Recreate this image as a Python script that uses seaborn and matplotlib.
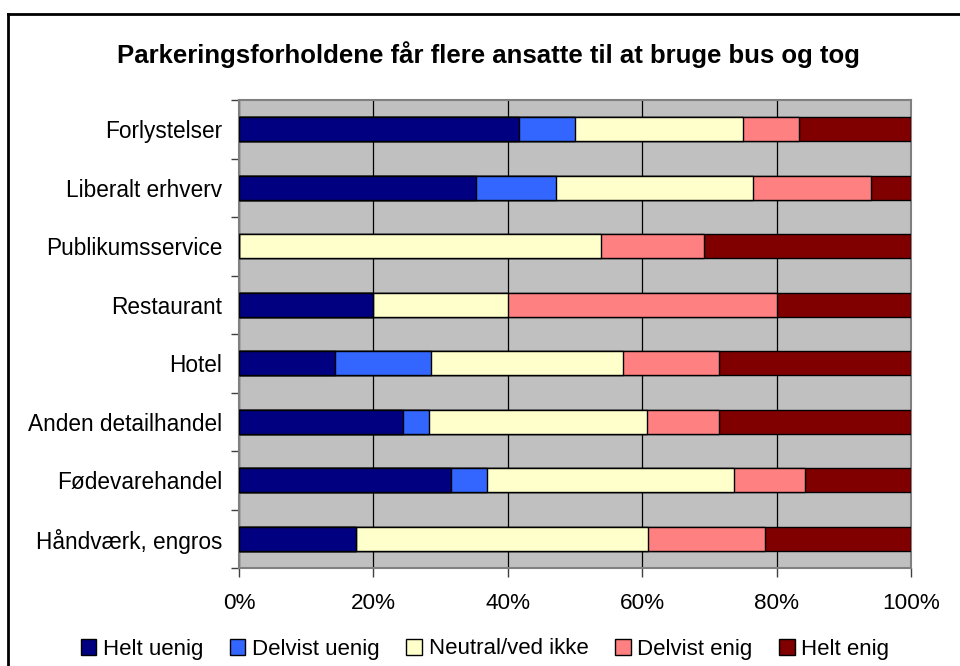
import matplotlib
matplotlib.use("Agg")
import matplotlib.pyplot as plt
import matplotlib.patches as mpatches
from matplotlib.lines import Line2D
from matplotlib.ticker import FixedLocator, FuncFormatter
import numpy as np
import pandas as pd
import seaborn as sns

sns.set_style("white")
plt.rcParams["font.family"] = ["Liberation Sans", "DejaVu Sans"]
plt.rcParams["text.color"] = "black"
plt.rcParams["xtick.color"] = "black"
plt.rcParams["ytick.color"] = "black"

title = "Parkeringsforholdene får flere ansatte til at bruge bus og tog"

categories = [
    "Forlystelser",
    "Liberalt erhverv",
    "Publikumsservice",
    "Restaurant",
    "Hotel",
    "Anden detailhandel",
    "Fødevarehandel",
    "Håndværk, engros",
]

series_names = ["Helt uenig", "Delvist uenig", "Neutral/ved ikke", "Delvist enig", "Helt enig"]

helt_uenig = [41.7, 35.3, 0.0, 20.0, 14.3, 24.4, 31.6, 17.4]
delvist_uenig = [8.3, 11.8, 0.0, 0.0, 14.3, 3.9, 5.3, 0.0]
neutral = [25.0, 29.4, 53.8, 20.0, 28.6, 32.4, 36.8, 43.5]
delvist_enig = [8.3, 17.6, 15.4, 40.0, 14.3, 10.8, 10.5, 17.4]
helt_enig = [16.7, 5.9, 30.8, 20.0, 28.5, 28.5, 15.8, 21.7]

colors = ["#000080", "#3366FF", "#FFFFCC", "#FF8080", "#800000"]

x_ticks = [0, 20, 40, 60, 80, 100]

values = [helt_uenig, delvist_uenig, neutral, delvist_enig, helt_enig]
df = pd.DataFrame({name: vals for name, vals in zip(series_names, values)}, index=categories)
cum = df.cumsum(axis=1)

fig = plt.figure(figsize=(9.6, 6.66), dpi=100)
ax = fig.add_axes([239 / 960, 1 - 568 / 666, (911 - 239) / 960, (568 - 100) / 666])
ax.set_facecolor("#C0C0C0")

# stacked bars: draw cumulative totals from the widest down
for name, color in reversed(list(zip(series_names, colors))):
    plot_df = pd.DataFrame({"kategori": categories, "andel": cum[name].values})
    sns.barplot(
        data=plot_df, x="andel", y="kategori", orient="h", ax=ax,
        color=color, width=0.41, edgecolor="black", linewidth=1.0,
        saturation=1, zorder=3, errorbar=None,
    )

ax.set_xlim(0, 100)
ax.set_ylim(len(categories) - 0.5, -0.5)
ax.set_xlabel("")
ax.set_ylabel("")

# vertical gridlines
ax.xaxis.set_major_locator(FixedLocator(x_ticks))
ax.xaxis.set_major_formatter(FuncFormatter(lambda v, p: f"{v:.0f}%"))
ax.grid(axis="x", color="black", linewidth=0.9, zorder=1)
ax.grid(axis="y", visible=False)
ax.set_axisbelow(True)

ax.tick_params(axis="x", which="major", length=6.5, width=1, color="#404040",
               labelsize=16.2, pad=11.5, direction="out", bottom=True)
ax.yaxis.set_major_locator(FixedLocator(np.arange(len(categories))))
ax.set_yticklabels(categories)
ax.yaxis.set_minor_locator(FixedLocator(np.arange(len(categories) + 1) - 0.5))
ax.tick_params(axis="y", which="major", length=0, labelsize=16.3, pad=12.2)
ax.tick_params(axis="y", which="minor", length=5.5, width=1, color="#404040",
               direction="out", left=True)

for side, sp in ax.spines.items():
    sp.set_visible(True)
    sp.set_color("#808080")
    sp.set_linewidth(1.5)

fig.text(488 / 960, 1 - 63 / 666, title, ha="center", va="baseline",
         fontsize=18.5, fontweight="bold")

handles = [mpatches.Patch(facecolor=c, edgecolor="black", linewidth=1.0, label=n)
           for n, c in zip(series_names, colors)]
fig.legend(handles=handles, loc="center", bbox_to_anchor=(485 / 960, 1 - 649 / 666),
           ncol=5, frameon=False, fontsize=16, handlelength=0.7, handleheight=0.7,
           handletextpad=0.3, columnspacing=1.2, borderaxespad=0)

# outer chart frame
fig.add_artist(Line2D([8 / 960, 8 / 960], [0, 1 - 13.5 / 666], transform=fig.transFigure,
                      color="black", linewidth=2, solid_capstyle="projecting"))
fig.add_artist(Line2D([8 / 960, 1], [1 - 13.5 / 666, 1 - 13.5 / 666], transform=fig.transFigure,
                      color="black", linewidth=2, solid_capstyle="projecting"))

fig.savefig("out.png", dpi=100)
